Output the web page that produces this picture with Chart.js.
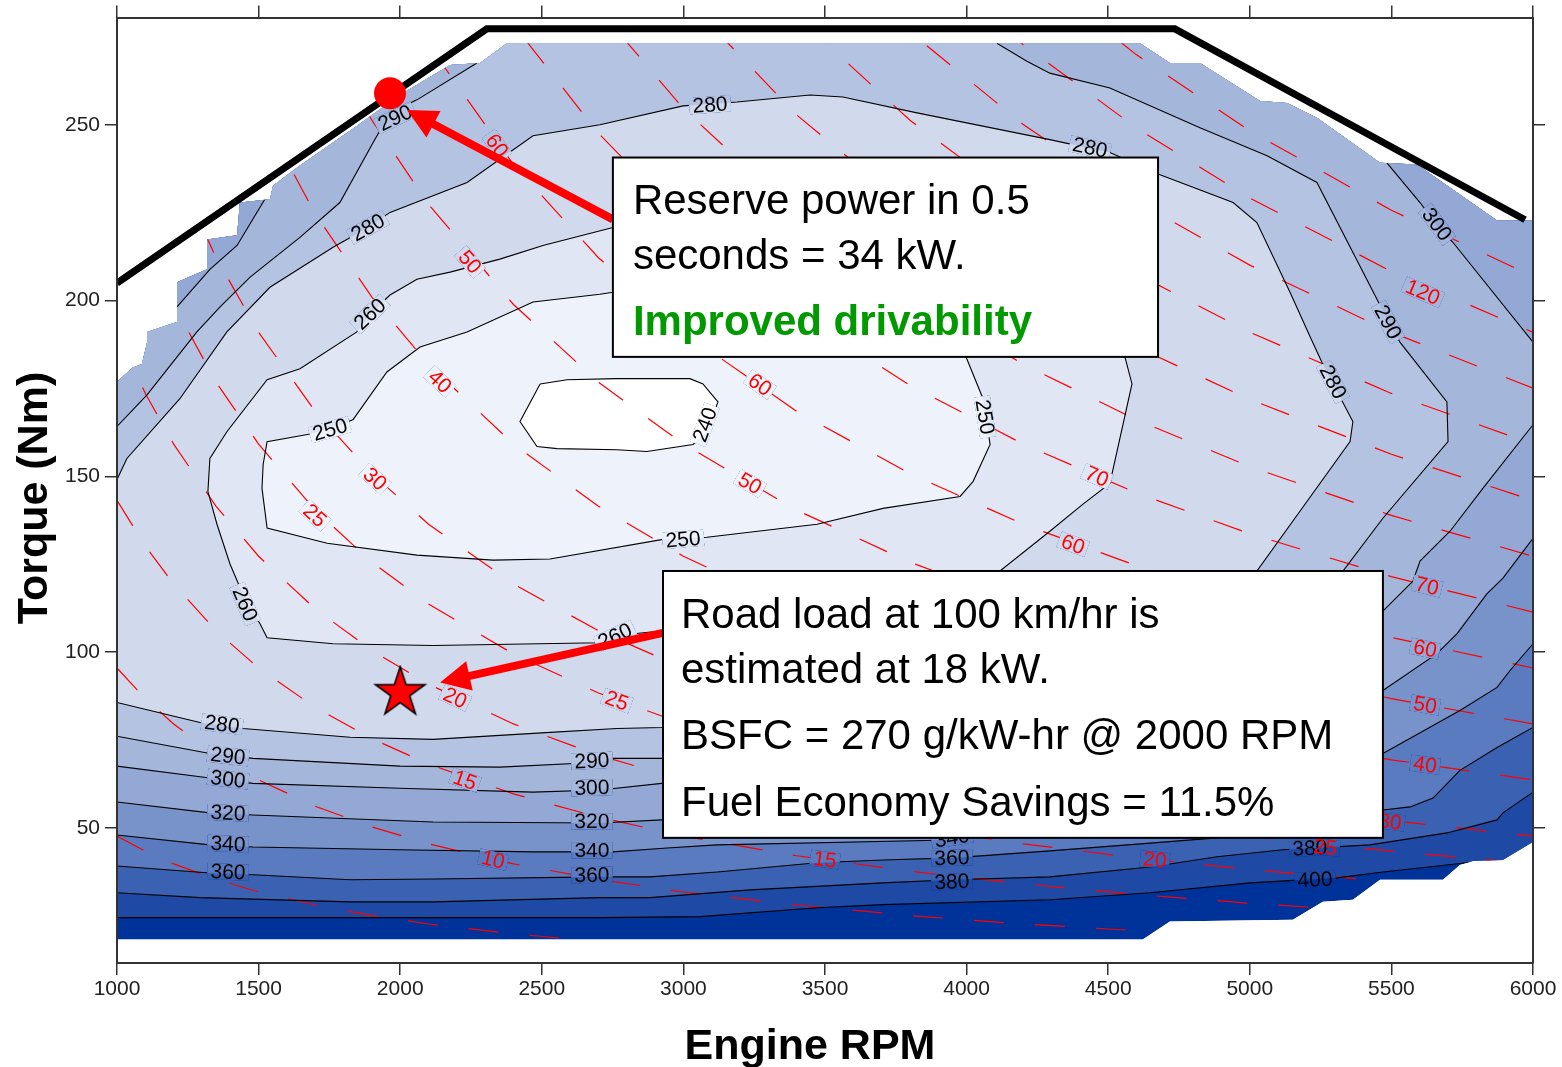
<!DOCTYPE html>
<html>
<head>
<meta charset="utf-8">
<title>BSFC map</title>
<script src="https://cdn.jsdelivr.net/npm/chart.js@4.4.1/dist/chart.umd.min.js"></script>
<style>
  html, body { margin: 0; padding: 0; background: #fff; }
  canvas { display: block; }
</style>
</head>
<body>
<canvas id="bsfcMap" width="1562" height="1067"></canvas>
<script>
// ---- data, all in (rpm, Nm) ----

// outline of the measured map
const mapEdge = [[1000,18.3],[1000,176.9],[1056,181.0],[1088,182.0],[1106,188.0],[1106,191.1],[1212,193.9],[1212,205.2],
  [1318,208.9],[1318,217.4],[1424,218.6],[1434,227.9],[1540,228.8],[1551,232.7],[1646,238.4],[1823,248.3],[1999,258.5],
  [2176,267.0],[2282,267.6],[2377,273.2],[4612,273.2],[4718,267.6],[4824,267.6],[5036,256.8],[5131,256.2],[5237,252.0],
  [5460,239.2],[5590,238.7],[5873,222.8],[6000,222.8],[6000,46.0],[5894,40.9],[5788,40.6],[5742,39.5],[5682,35.3],
  [5460,35.3],[5364,29.6],[5258,29.0],[5152,23.9],[4718,23.4],[4622,18.3]];

// BSFC contours (g/kWh)
const bsfc400 = [[1000,24.5],[2705,24.5],[3059,24.8],[3472,27.3],[3705,28.2],[4294,29.6],[4648,31.6],[5001,34.4],[5308,35.8],[5470,37.5],[5767,40.1],[5850,40.6]];
const bsfc380 = [[1000,31.6],[1293,30.2],[1823,29.0],[2116,29.0],[2705,30.2],[2882,30.2],[3235,32.4],[3705,34.4],[3952,35.3],[4294,36.1],[4648,38.9],[4884,41.8],[5117,43.8],[5424,45.2],[5696,48.6],[5873,52.3],[5894,54.3],[6000,60.2]];
const bsfc360 = [[1000,39.2],[1328,37.2],[1480,36.7],[1823,35.3],[2116,35.5],[2705,36.1],[2882,36.1],[3119,37.5],[3472,40.1],[3705,40.9],[3952,41.5],[4294,43.5],[4648,45.7],[4884,47.2],[5177,50.8],[5470,55.1],[5566,56.0],[5647,58.5],[5742,66.4],[5873,72.9],[6000,78.6]];
const bsfc340 = [[1000,48.0],[1328,45.2],[1480,44.6],[1999,43.8],[2469,43.2],[2751,43.2],[2942,44.3],[3119,45.2],[3941,46.6],[4471,53.7],[5001,62.2],[5470,71.2],[5742,83.4],[5873,90.0],[5919,94.8],[6000,102.4]];
const bsfc320 = [[1000,57.4],[1328,54.3],[1480,53.7],[2116,51.7],[2705,51.4],[2924,52.3],[3765,56.5],[4648,66.4],[5177,77.8],[5470,89.1],[5661,99.6],[5732,105.3],[5837,116.6],[5894,121.1],[6000,132.4]];
const bsfc300a = [[1000,67.6],[1328,64.2],[1480,62.7],[1999,61.3],[2469,60.2],[2705,60.8],[2924,62.7],[3765,66.4],[4648,80.6],[5177,94.8],[5470,111.7],[5576,120.2],[5601,125.9],[5707,134.4],[5823,146.6],[6000,164.7]];
const bsfc300b = [[6000,188.2],[5717,216.6],[5661,221.4],[5601,227.9],[5484,239.2]];
const bsfc300c = [[1547,232.7],[1530,229.9],[1424,215.7],[1328,208.9],[1212,198.2]];
const bsfc290a = [[1000,76.1],[1328,71.2],[1480,69.8],[1999,67.6],[2352,67.3],[2705,68.7],[2751,69.8],[2924,69.8],[3765,74.9],[4471,86.3],[5001,103.3],[5329,123.1],[5470,138.1],[5700,159.9],[5696,171.2],[5530,188.2],[5460,198.7],[5237,233.6],[5061,241.2],[4824,249.2],[4506,260.5],[4294,264.7],[4213,268.1],[4107,273.2]];
const bsfc290b = [[2271,267.6],[2059,257.1],[1964,253.4],[1904,244.9],[1787,227.9],[1646,218.0],[1470,206.7],[1364,198.2],[1282,191.1],[1106,173.2],[1000,164.2]];
const bsfc280 = [[1000,149.1],[1035,155.1],[1222,172.1],[1388,191.1],[1540,203.8],[1763,215.2],[1886,220.8],[1964,225.1],[2236,233.6],[2469,246.9],[2705,250.0],[2999,255.4],[3189,256.5],[3447,258.5],[3563,257.9],[3825,253.4],[4294,245.8],[4506,242.1],[4683,235.8],[4941,227.9],[5025,222.2],[5142,202.4],[5213,189.7],[5259,181.7],[5364,165.6],[5354,159.9],[5177,140.1],[5025,123.1],[4648,103.3],[4118,89.1],[3588,82.0],[2924,78.6],[2765,78.3],[2529,77.2],[2116,75.2],[1823,75.8],[1445,78.3],[1293,80.0],[1000,85.7]];
const bsfc260 = [[2751,220.8],[2504,215.7],[2352,211.8],[2176,208.1],[2059,206.1],[1964,201.6],[1893,196.2],[1847,191.1],[1646,180.6],[1530,177.5],[1388,162.7],[1328,155.1],[1321,145.7],[1353,136.4],[1399,125.1],[1459,113.7],[1505,108.1],[1530,104.1],[1763,102.4],[2116,101.9],[2705,102.7],[2758,104.7],[2928,106.1],[3588,111.7],[4118,123.1],[4294,134.4],[4411,142.1],[4506,148.0],[4584,176.3],[4559,184.0],[4471,213.7],[4118,227.9],[3588,232.2],[3059,227.9]];
const bsfc250 = [[1833,166.1],[1953,179.7],[2070,186.8],[2236,191.1],[2469,199.6],[2705,201.8],[2751,202.4],[3059,208.1],[3588,210.3],[3941,199.6],[4001,183.4],[4058,172.1],[4083,159.1],[4023,148.6],[3977,144.3],[3705,140.9],[3472,136.4],[3083,132.7],[2995,132.1],[2928,132.1],[2529,126.5],[2328,126.2],[2059,127.6],[1742,131.0],[1530,135.3],[1512,146.6],[1516,153.4],[1530,159.9],[1692,162.2],[1752,163.6]];
const bsfc240 = [[2494,176.3],[2589,177.5],[2765,177.8],[3023,177.8],[3069,176.3],[3122,171.2],[3083,162.7],[3034,159.1],[2871,157.1],[2765,157.6],[2554,157.9],[2483,158.5],[2423,165.6]];

// constant power lines (kW): torque at each rpm
const powerRpm = [1000,1100,1200,1350,1500,1700,1900,2100,2400,2700,3000,3400,3800,4200,4600,5000,5500,6000];
const powerKw = [5,10,15,20,25,30,40,50,60,70,80,90,100,110,120,130];
const powerNm = [
  [47.7,43.4,39.8,35.4,31.8,28.1,25.1,22.7,19.9,17.7,15.9,14.0,12.6,11.4,10.4,9.5,8.7,8.0],
  [95.5,86.8,79.6,70.7,63.7,56.2,50.3,45.5,39.8,35.4,31.8,28.1,25.1,22.7,20.8,19.1,17.4,15.9],
  [143.2,130.2,119.4,106.1,95.5,84.3,75.4,68.2,59.7,53.1,47.7,42.1,37.7,34.1,31.1,28.6,26.0,23.9],
  [191.0,173.6,159.2,141.5,127.3,112.3,100.5,90.9,79.6,70.7,63.7,56.2,50.3,45.5,41.5,38.2,34.7,31.8],
  [238.7,217.0,198.9,176.8,159.2,140.4,125.6,113.7,99.5,88.4,79.6,70.2,62.8,56.8,51.9,47.7,43.4,39.8],
  [286.5,260.4,238.7,212.2,191.0,168.5,150.8,136.4,119.4,106.1,95.5,84.3,75.4,68.2,62.3,57.3,52.1,47.7],
  [null,null,null,282.9,254.6,224.7,201.0,181.9,159.2,141.5,127.3,112.3,100.5,90.9,83.0,76.4,69.4,63.7],
  [null,null,null,null,318.3,280.9,251.3,227.4,198.9,176.8,159.2,140.4,125.6,113.7,103.8,95.5,86.8,79.6],
  [null,null,null,null,null,null,301.6,272.8,238.7,212.2,191.0,168.5,150.8,136.4,124.6,114.6,104.2,95.5],
  [null,null,null,null,null,null,null,318.3,278.5,247.6,222.8,196.6,175.9,159.2,145.3,133.7,121.5,111.4],
  [null,null,null,null,null,null,null,null,318.3,283.0,254.6,224.7,201.0,181.9,166.1,152.8,138.9,127.3],
  [null,null,null,null,null,null,null,null,null,318.3,286.5,252.8,226.2,204.6,186.8,171.9,156.3,143.2],
  [null,null,null,null,null,null,null,null,null,null,318.3,280.9,251.3,227.4,207.6,191.0,173.6,159.2],
  [null,null,null,null,null,null,null,null,null,null,null,309.0,276.4,250.1,228.3,210.1,191.0,175.1],
  [null,null,null,null,null,null,null,null,null,null,null,null,301.5,272.8,249.1,229.2,208.3,191.0],
  [null,null,null,null,null,null,null,null,null,null,null,null,null,295.6,269.9,248.3,225.7,206.9]
];

// contour labels: level, rpm, Nm
const bsfcLabels = [[290,1982,252.0],[280,1886,220.8],[260,1893,196.2],[250,1752,163.3],[260,1452,113.7],[260,2758,104.6],
  [250,2999,132.1],[240,3076,164.7],[250,4065,166.9],[280,3094,255.7],[280,4436,243.5],[300,5661,221.7],[290,5488,193.9],
  [280,5294,176.9],[280,1371,79.5],[290,1392,70.5],[300,1392,63.9],[320,1392,54.3],[340,1392,45.5],[360,1392,37.5],
  [290,2677,69.1],[300,2677,61.5],[320,2677,51.9],[340,2677,43.7],[360,2677,36.6],[340,3948,47.2],[360,3948,41.5],
  [380,3948,34.7],[380,5212,44.3],[400,5230,35.3]];
// power labels: kW, rpm, Nm
const kwLabels = [[60,2342,244.1],[50,2246,211.0],[40,2140,177.0],[30,1911,149.3],[25,1699,138.9],[60,3270,176.1],
  [50,3235,148.0],[70,4460,150.0],[60,4376,130.7],[120,5611,202.4],[70,5626,118.8],[60,5619,101.0],[50,5619,85.0],
  [40,5619,68.0],[30,5495,51.8],[25,5266,44.5],[20,4665,41.0],[15,3500,41.0],[10,2328,41.0],[15,2229,63.6],
  [20,2194,87.0],[25,2765,86.2]];

// full-load torque curve
const maxTorqueRpm = [1000, 2306, 4735, 5972];
const maxTorqueNm = [205.0, 277.3, 277.3, 223.0];

const reservePoint = [1964, 259.0];
const roadLoadPoint = [2000, 88.5];

// ---- helpers ----
const FONT = '"Liberation Sans", Arial, sans-serif';
Chart.defaults.font.family = FONT;

const P = a => a.map(p => ({x: p[0], y: p[1]}));
const last = a => a[a.length - 1];
const closeLoop = a => [...a, a[0]];
const OUT_L = 900, OUT_R = 6100, OUT_T = 300;   // points outside the map, used to close regions

const above = line => [...line, [OUT_R, last(line)[1]], [OUT_R, OUT_T], [OUT_L, OUT_T], [OUT_L, line[0][1]]];
const region300 = [...bsfc300a, [OUT_R, last(bsfc300a)[1]], [OUT_R, bsfc300b[0][1]], ...bsfc300b,
  [last(bsfc300b)[0], OUT_T], [bsfc300c[0][0], OUT_T], ...bsfc300c, [OUT_L, last(bsfc300c)[1]], [OUT_L, bsfc300a[0][1]]];
const region290 = [...bsfc290a, [last(bsfc290a)[0], OUT_T], [bsfc290b[0][0], OUT_T], ...bsfc290b,
  [OUT_L, last(bsfc290b)[1]], [OUT_L, bsfc290a[0][1]]];
const region280 = [...bsfc280, [OUT_L, last(bsfc280)[1]], [OUT_L, bsfc280[0][1]]];

const bandFills = [mapEdge, above(bsfc400), above(bsfc380), above(bsfc360), above(bsfc340), above(bsfc320),
  region300, region290, region280, bsfc260, bsfc250, bsfc240];
const bandColors = ['#003399', '#1e4aa6', '#3b62b2', '#5a7bbf', '#7892ca', '#93a8d4',
  '#a5b6db', '#b4c3e1', '#d1daed', '#e0e6f3', '#eef2fa', '#ffffff'];

const levelLines = {
  400: [bsfc400], 380: [bsfc380], 360: [bsfc360], 340: [bsfc340], 320: [bsfc320],
  300: [bsfc300a, bsfc300b, bsfc300c], 290: [bsfc290a, bsfc290b], 280: [bsfc280],
  260: [closeLoop(bsfc260)], 250: [closeLoop(bsfc250)], 240: [closeLoop(bsfc240)]
};
const contourLines = [].concat(...Object.values(levelLines));
const powerLines = powerKw.map((kw, i) => powerRpm.map((r, j) => [r, powerNm[i][j]]));

function starImage(R) {
  const c = document.createElement('canvas');
  const s = Math.ceil(2 * R + 4);
  c.width = c.height = s;
  const g = c.getContext('2d');
  g.beginPath();
  for (let k = 0; k < 10; k++) {
    const r = k % 2 ? R * 0.382 : R;
    const a = -Math.PI / 2 + k * Math.PI / 5;
    g.lineTo(s / 2 + r * Math.cos(a), s / 2 + r * Math.sin(a));
  }
  g.closePath();
  g.fillStyle = '#ff0000';
  g.fill();
  g.lineWidth = 1.6;
  g.strokeStyle = '#000';
  g.stroke();
  return c;
}

function tracePoly(chart, poly) {
  const xs = chart.scales.x, ys = chart.scales.y, ctx = chart.ctx;
  ctx.beginPath();
  poly.forEach((p, i) => {
    const x = xs.getPixelForValue(p[0]), y = ys.getPixelForValue(p[1]);
    if (i) ctx.lineTo(x, y); else ctx.moveTo(x, y);
  });
  ctx.closePath();
}

// angle of the nearest line segment, so the label follows its line
function lineAngle(chart, lines, x, y) {
  const xs = chart.scales.x, ys = chart.scales.y;
  let best = Infinity, ang = 0;
  lines.forEach(line => {
    for (let i = 1; i < line.length; i++) {
      if (line[i - 1][1] == null || line[i][1] == null) continue;
      const ax = xs.getPixelForValue(line[i - 1][0]), ay = ys.getPixelForValue(line[i - 1][1]);
      const bx = xs.getPixelForValue(line[i][0]), by = ys.getPixelForValue(line[i][1]);
      const dx = bx - ax, dy = by - ay;
      let t = ((x - ax) * dx + (y - ay) * dy) / (dx * dx + dy * dy || 1);
      t = Math.max(0, Math.min(1, t));
      const d = Math.hypot(ax + t * dx - x, ay + t * dy - y);
      if (d < best) { best = d; ang = Math.atan2(dy, dx); }
    }
  });
  if (ang > Math.PI / 2) ang -= Math.PI;
  if (ang < -Math.PI / 2) ang += Math.PI;
  return ang;
}

function placeLabels(chart) {
  const xs = chart.scales.x, ys = chart.scales.y, ctx = chart.ctx;
  const out = [];
  bsfcLabels.forEach(([lv, r, t]) => out.push({text: String(lv), r, t, color: '#000', lines: levelLines[lv]}));
  kwLabels.forEach(([kw, r, t]) => out.push({text: String(kw), r, t, color: '#ff0000', lines: [powerLines[powerKw.indexOf(kw)]]}));
  return out.map(l => {
    const x = xs.getPixelForValue(l.r), y = ys.getPixelForValue(l.t);
    return {text: l.text, color: l.color, x, y, a: lineAngle(chart, l.lines, x, y), w: ctx.measureText(l.text).width + 6};
  });
}

function drawArrow(ctx, x1, y1, x2, y2) {
  const ang = Math.atan2(y2 - y1, x2 - x1), head = 30, half = 15;
  const bx = x2 - head * Math.cos(ang), by = y2 - head * Math.sin(ang);
  ctx.strokeStyle = '#ff0000';
  ctx.lineWidth = 8;
  ctx.lineCap = 'butt';
  ctx.beginPath();
  ctx.moveTo(x1, y1);
  ctx.lineTo(bx + 3 * Math.cos(ang), by + 3 * Math.sin(ang));
  ctx.stroke();
  ctx.fillStyle = '#ff0000';
  ctx.beginPath();
  ctx.moveTo(x2, y2);
  ctx.lineTo(bx + half * Math.sin(ang), by - half * Math.cos(ang));
  ctx.lineTo(bx - half * Math.sin(ang), by + half * Math.cos(ang));
  ctx.closePath();
  ctx.fill();
}

const arrows = [[[2751, 223.1], [2024, 254.2]], [[2928, 105.5], [2141, 91.4]]];
const notes = [
  {from: [2751, 240.7], to: [4676, 184.0], dx: 20, lines: [
    ['Reserve power in 0.5', 56, '#000', ''],
    ['seconds = 34 kW.', 111, '#000', ''],
    ['Improved drivability', 177, '#009900', 'bold ']]},
  {from: [2928, 123.1], to: [5470, 47.2], dx: 18, lines: [
    ['Road load at 100 km/hr is', 57, '#000', ''],
    ['estimated at 18 kW.', 112, '#000', ''],
    ['BSFC = 270 g/kW-hr @ 2000 RPM', 178, '#000', ''],
    ['Fuel Economy Savings = 11.5%', 245, '#000', '']]}
];

const mapLayers = {
  id: 'mapLayers',
  beforeDatasetsDraw(chart) {
    chart.ctx.save();
    tracePoly(chart, mapEdge);
    chart.ctx.clip();
  },
  afterDatasetDraw(chart, args) {
    if (chart.data.datasets[args.index].role !== 'lastClipped') return;
    const ctx = chart.ctx;
    ctx.font = 'bold 21px ' + FONT;
    const items = placeLabels(chart);
    // break the lines under each label by repainting the bands there
    items.forEach(it => {
      ctx.save();
      ctx.translate(it.x, it.y);
      ctx.rotate(it.a);
      ctx.beginPath();
      ctx.rect(-it.w / 2, -8, it.w, 16);
      ctx.rotate(-it.a);
      ctx.translate(-it.x, -it.y);
      ctx.clip();
      bandFills.forEach((poly, i) => {
        ctx.fillStyle = bandColors[i];
        tracePoly(chart, poly);
        ctx.fill();
      });
      ctx.restore();
    });
    ctx.restore();   // end of map clip
    ctx.textAlign = 'center';
    ctx.textBaseline = 'middle';
    items.forEach(it => {
      ctx.save();
      ctx.translate(it.x, it.y);
      ctx.rotate(it.a);
      ctx.fillStyle = it.color;
      ctx.fillText(it.text, 0, 1);
      ctx.restore();
    });
  },
  afterDatasetsDraw(chart) {
    const ctx = chart.ctx, xs = chart.scales.x, ys = chart.scales.y;
    const px = p => [xs.getPixelForValue(p[0]), ys.getPixelForValue(p[1])];
    ctx.save();
    arrows.forEach(([a, b]) => drawArrow(ctx, ...px(a), ...px(b)));
    notes.forEach(n => {
      const [l, t] = px(n.from), [r, b] = px(n.to);
      ctx.fillStyle = '#fff';
      ctx.fillRect(l, t, r - l, b - t);
      ctx.lineWidth = 2;
      ctx.strokeStyle = '#000';
      ctx.strokeRect(l, t, r - l, b - t);
      ctx.textAlign = 'left';
      ctx.textBaseline = 'alphabetic';
      n.lines.forEach(([txt, dy, col, wt]) => {
        ctx.font = wt + '42px ' + FONT;
        ctx.fillStyle = col;
        ctx.fillText(txt, l + n.dx, t + dy);
      });
    });
    // axis titles
    ctx.font = 'bold 43px ' + FONT;
    ctx.fillStyle = '#000';
    ctx.textAlign = 'center';
    ctx.textBaseline = 'alphabetic';
    ctx.fillText('Engine RPM', 810, 1059);
    ctx.translate(47, 498);
    ctx.rotate(-Math.PI / 2);
    ctx.fillText('Torque (Nm)', 0, 0);
    ctx.restore();
  }
};

// ---- datasets ----
const datasets = [];
bandFills.forEach((poly, i) => datasets.push({
  data: P(poly), fill: 'shape', backgroundColor: bandColors[i], borderColor: 'transparent', borderWidth: 0
}));
powerLines.forEach(line => datasets.push({
  data: P(line), borderColor: '#ff0000', borderWidth: 1.2, borderDash: [30, 31], fill: false
}));
contourLines.forEach(line => datasets.push({
  data: P(line), borderColor: '#000', borderWidth: 1.1, fill: false
}));
datasets[datasets.length - 1].role = 'lastClipped';
datasets.push({
  data: P(maxTorqueRpm.map((r, i) => [r, maxTorqueNm[i]])), borderColor: '#000', borderWidth: 7,
  borderJoinStyle: 'miter', fill: false
});
datasets.push({data: P([reservePoint]), showLine: false, pointRadius: 16, pointBackgroundColor: '#ff0000', pointBorderWidth: 0});
datasets.push({data: P([roadLoadPoint]), showLine: false, pointStyle: starImage(26), pointRadius: 26});
datasets.forEach((d, i) => {
  d.order = datasets.length - i;   // draw in list order
  d.xAxisID = 'x';
  d.yAxisID = 'y';
  d.tension = 0;
  if (d.pointRadius === undefined) d.pointRadius = 0;
});

const axisGrid = {drawOnChartArea: false, drawTicks: true, tickLength: 12, color: '#333', lineWidth: 1.5};
const axisBorder = {display: true, color: '#333', width: 2, z: 1};
const tickFont = {size: 21, family: FONT};

new Chart(document.getElementById('bsfcMap'), {
  type: 'line',
  data: {datasets},
  options: {
    responsive: false,
    animation: false,
    devicePixelRatio: 1,
    events: [],
    layout: {padding: 0, autoPadding: false},
    plugins: {legend: {display: false}, tooltip: {enabled: false}},
    scales: {
      x: {
        type: 'linear', position: 'bottom', min: 1000, max: 6000,
        ticks: {stepSize: 500, color: '#222', font: tickFont, padding: 2, maxRotation: 0, autoSkip: false,
          includeBounds: false, callback: v => String(v)},
        grid: axisGrid, border: axisBorder,
        afterFit: s => { s.height = 104; }
      },
      x2: {
        type: 'linear', position: 'top', min: 1000, max: 6000,
        ticks: {stepSize: 500, display: false},
        grid: axisGrid, border: axisBorder,
        afterFit: s => { s.height = 16; }
      },
      y: {
        type: 'linear', position: 'left', min: 11.6, max: 280.5,
        ticks: {stepSize: 50, color: '#222', font: tickFont, padding: 5, includeBounds: false, callback: v => String(v)},
        grid: axisGrid, border: axisBorder,
        afterFit: s => { s.width = 117; }
      },
      y2: {
        type: 'linear', position: 'right', min: 11.6, max: 280.5,
        ticks: {stepSize: 50, display: false, includeBounds: false},
        grid: axisGrid, border: axisBorder,
        afterFit: s => { s.width = 29; }
      }
    }
  },
  plugins: [mapLayers]
});
</script>
</body>
</html>
